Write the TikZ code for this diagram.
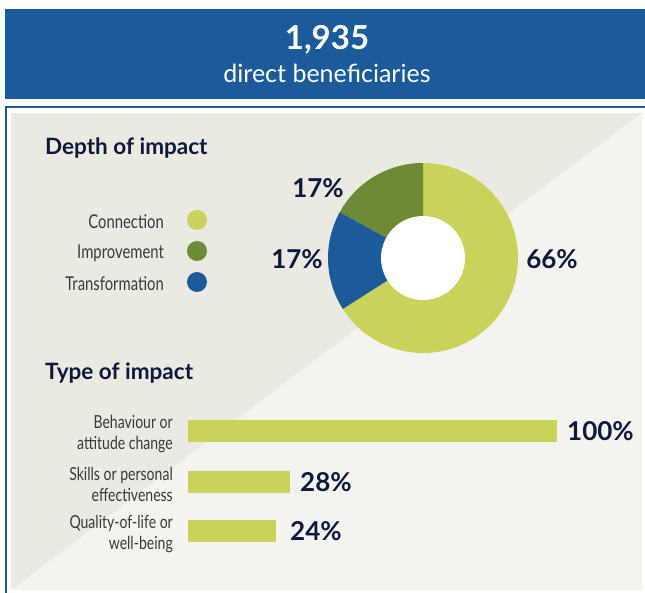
\documentclass[tikz,border=0pt]{standalone}
\usepackage{fontspec}
\setmainfont{Lato}
\newfontfamily\narrowfont[FakeStretch=0.78]{Lato}
\definecolor{headblue}{HTML}{1C5B9A}
\definecolor{navy}{HTML}{0E1A3C}
\definecolor{lime}{HTML}{C9D35A}
\definecolor{olive}{HTML}{6F8A35}
\definecolor{paneldark}{HTML}{EAE9E2}
\definecolor{panellight}{HTML}{F3F3EF}
\definecolor{labelgray}{HTML}{3A3A3A}
\tikzset{
  heading/.style={anchor=west,inner sep=0pt,text=navy,font=\fontsize{22.5}{24}\selectfont\bfseries},
  pct/.style={inner sep=0pt,text=navy,font=\fontsize{26}{28}\selectfont\bfseries},
  legend/.style={anchor=east,inner sep=0pt,text=labelgray,font=\narrowfont\fontsize{19}{20}\selectfont},
  barlabel/.style={anchor=east,inner sep=0pt,align=right,text=labelgray,font=\narrowfont\fontsize{18}{21}\selectfont},
  dot/.style={circle,fill=#1,minimum size=20pt,inner sep=0pt},
  bar/.style={fill=lime}
}
\begin{document}
\begin{tikzpicture}[x=1pt,y=1pt]
\useasboundingbox (0,0) rectangle (645,592);
%HEADER
\fill[headblue] (5,493) rectangle (645,583);
\node[text=white,font=\fontsize{33}{36}\selectfont\bfseries] (total) at (327,552) {1,935};
\node[text=white,font=\fontsize{25}{28}\selectfont] (totaltext) at (327,519) {direct beneficiaries};
%PANEL
\draw[headblue,line width=1.5pt,fill=white] (6,-5) rectangle (652,485);
\fill[paneldark] (11,2) rectangle (642,479);
\fill[panellight] (642,479) -- (642,2) -- (11,2) -- cycle;
%DEPTH OF IMPACT
\node[heading] (depth) at (45,444) {Depth of impact};
\coordinate (cnt) at (423,334);
\fill[lime] (cnt) -- ++(90:95) arc[start angle=90,end angle=-147.6,radius=95] -- cycle;
\fill[olive] (cnt) -- ++(90:95) arc[start angle=90,end angle=151.2,radius=95] -- cycle;
\fill[headblue] (cnt) -- ++(151.2:95) arc[start angle=151.2,end angle=212.4,radius=95] -- cycle;
\fill[white] (cnt) circle[radius=42];
\node[pct] (imp) at (318,404) {17\%};
\node[pct] (tra) at (297,333) {17\%};
\node[pct] (con) at (552,333) {66\%};
% legend
\node[dot=lime] (dotcon) at (197,372) {};
\node[dot=olive] (dotimp) at (197,341) {};
\node[dot=headblue] (dottra) at (197,310) {};
\node[legend] (legcon) at (164,370) {Connection};
\node[legend] (legimp) at (164,339) {Improvement};
\node[legend] (legtra) at (164,308) {Transformation};
%TYPE OF IMPACT
\node[heading] (type) at (45,219) {Type of impact};
\fill[bar] (188,150) rectangle (557,172);
\fill[bar] (188,99) rectangle (290,121);
\fill[bar] (188,50) rectangle (276,72);
\node[barlabel] (behav) at (173,158) {Behaviour or\\attitude change};
\node[barlabel] (skills) at (173,108) {Skills or personal\\effectiveness};
\node[barlabel] (quality) at (173,58) {Quality-of-life or\\well-being};
\node[pct,anchor=west] (p100) at (567,161) {100\%};
\node[pct,anchor=west] (p28) at (300,110) {28\%};
\node[pct,anchor=west] (p24) at (290,61) {24\%};
\end{tikzpicture}
\end{document}
